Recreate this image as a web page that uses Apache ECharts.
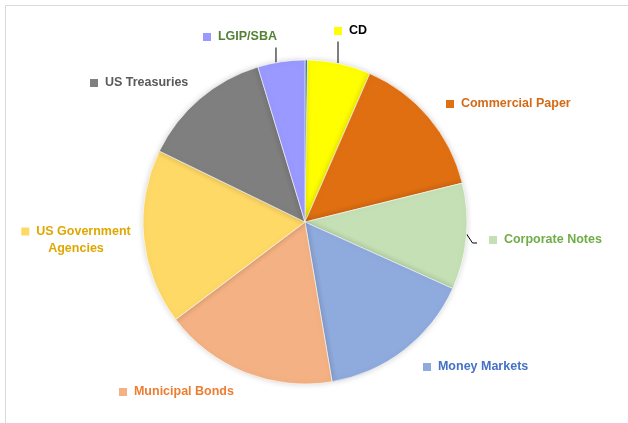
<!DOCTYPE html>
<html lang="en" style="height: 100%">
<head>
  <meta charset="utf-8">
</head>
<body style="height: 100%; margin: 0; background: #fff">
  <div id="container" style="width: 628px; height: 423px;"></div>

  <script type="text/javascript" src="https://cdn.jsdelivr.net/npm/echarts@6/dist/echarts.min.js"></script>

  <script type="text/javascript">
    // slices clockwise from 12 o'clock
    var categories = ['Other', 'CD', 'Commercial Paper', 'Corporate Notes', 'Money Markets',
      'Municipal Bonds', 'US Government\nAgencies', 'US Treasuries', 'LGIP/SBA'];
    var shares = [0.25, 6.3, 14.6, 10.6, 15.6, 17.4, 17.5, 13.1, 4.7];
    var sliceColors = ['#4a8fa3', '#ffff00', '#e06f12', '#c5e0b4', '#8faadc',
      '#f4b183', '#ffd966', '#7f7f7f', '#9999ff'];
    var textColors = ['#4a8fa3', '#000000', '#d46a16', '#70ad47', '#4472c4',
      '#ed7d31', '#dfa700', '#595959', '#548235'];
    // leader line style per slice: none, 'down' from label square, 'downEnd' from text end, 'left'
    var lineKind = [null, 'down', null, 'left', null, null, null, null, 'downEnd'];

    // label anchor points: [x, y, align]
    var labelPos = [
      [305, 30, 'left'],
      [334, 31, 'left'],
      [446, 104, 'left'],
      [489, 240, 'left'],
      [423, 367, 'left'],
      [119, 392, 'left'],
      [76, 240, 'center'],
      [90, 83, 'left'],
      [203, 37, 'left']
    ];

    var cx = 305, cy = 222, R = 162;

    var dom = document.getElementById('container');
    var myChart = echarts.init(dom, null, { renderer: 'canvas' });

    var data = [];
    for (var i = 0; i < categories.length; i++) {
      data.push({
        name: categories[i],
        value: shares[i],
        itemStyle: { color: sliceColors[i] },
        label: {
          show: i !== 0,
          color: textColors[i],
          rich: { s: { width: 8, height: 8, backgroundColor: sliceColors[i] } }
        },
        labelLine: { show: lineKind[i] !== null }
      });
    }

    function rimY(x) {
      return cy - Math.sqrt(R * R - (x - cx) * (x - cx));
    }
    function rimX(y) {
      return cx + Math.sqrt(R * R - (y - cy) * (y - cy));
    }

    var option = {
      animation: false,
      graphic: [{
        type: 'rect',
        shape: { x: 5.5, y: 5.5, width: 700, height: 500 },
        style: { fill: 'none', stroke: '#d9d9d9', lineWidth: 1 },
        silent: true
      }],
      series: [{
        type: 'pie',
        center: [cx, cy],
        radius: R,
        startAngle: 90,
        clockwise: true,
        avoidLabelOverlap: false,
        itemStyle: {
          borderColor: '#ffffff',
          borderWidth: 0.6,
          shadowBlur: 6,
          shadowColor: 'rgba(0,0,0,0.18)'
        },
        label: {
          position: 'outside',
          fontFamily: 'Liberation Sans',
          fontWeight: 'bold',
          fontSize: 12.5,
          lineHeight: 17,
          formatter: function (p) {
            var parts = p.name.split('\n');
            var s = '{s| }  ' + parts[0];
            for (var k = 1; k < parts.length; k++) s += '\n' + parts[k];
            return s;
          }
        },
        labelLine: {
          lineStyle: { color: '#000000', width: 1 },
          length: 10,
          length2: 8
        },
        labelLayout: function (params) {
          var idx = params.dataIndex;
          var p = labelPos[idx];
          var out = { x: p[0], y: p[1], align: p[2], verticalAlign: 'middle' };
          var w = params.labelRect.width, h = params.labelRect.height;
          var kind = lineKind[idx];
          if (kind === 'down') {
            var lx = p[0] + 4;
            out.labelLinePoints = [[lx, p[1] + h / 2 + 2], [lx, rimY(lx)]];
          } else if (kind === 'downEnd') {
            var ex = p[0] + w - 1;
            out.labelLinePoints = [[ex, p[1] + h / 2 + 2], [ex, rimY(ex)]];
          } else if (kind === 'left') {
            var ly = p[1] + 3;
            out.labelLinePoints = [[rimX(ly - 9), ly - 9], [rimX(ly - 9) + 6, ly], [p[0] - 12, ly]];
          }
          return out;
        },
        data: data
      }]
    };

    myChart.setOption(option);
    window.addEventListener('resize', myChart.resize);
  </script>
</body>
</html>
